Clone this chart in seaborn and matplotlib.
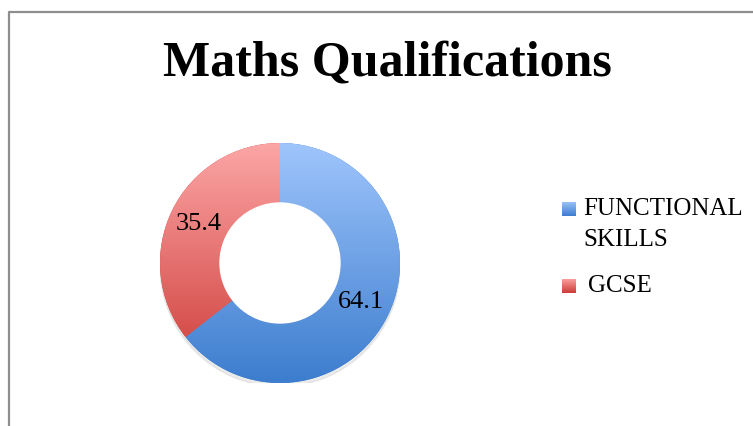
import numpy as np
import matplotlib
matplotlib.use("Agg")
import matplotlib.pyplot as plt
import seaborn as sns
from matplotlib.colors import LinearSegmentedColormap

categories = ["FUNCTIONAL\nSKILLS", "GCSE"]
values = [64.1, 35.4]
title = "Maths Qualifications"

# top / bottom colours of the vertical gradients
grad_colors = [("#9fc5fc", "#3c7dce"), ("#fca6a6", "#cc3a36")]

sns.set_theme(style="white")
plt.rcParams['font.family'] = ['Liberation Serif', 'DejaVu Serif']
plt.rcParams['text.color'] = "black"

fig = plt.figure(figsize=(7.53, 4.26), dpi=100)
fig.patch.set_facecolor("white")

# frame lines (top and left only, rest is cut off)
frame = fig.add_axes([0, 0, 1, 1])
frame.set_xlim(0, 753)
frame.set_ylim(426, 0)
frame.axis("off")
frame.plot([9, 9, 753], [426, 12, 12], color="#8e8e8e", lw=1.6, solid_capstyle="butt")

fig.text(387 / 753, 1 - 64 / 426, title, ha="center", va="center",
         fontsize=36, fontweight="bold", color="black")

ax = fig.add_axes([160 / 753, 43 / 426, 240 / 753, 240 / 426])
total = sum(values)
wedges, texts, autotexts = ax.pie(
    values, startangle=90, counterclock=False, radius=1,
    wedgeprops=dict(width=0.5, edgecolor="none"),
    autopct=lambda p: f"{p * total / 100:.1f}", pctdistance=0.75,
    textprops=dict(fontsize=19, color="black"))
ax.set_xlim(-1, 1)
ax.set_ylim(-1, 1)

# soft shadow under the ring
shadow = plt.Circle((0.0, -0.03), 1.0, color="#c8c8c8", alpha=0.35, zorder=0)
ax.add_patch(shadow)

grad = np.linspace(0, 1, 256).reshape(-1, 1)
for w, (c_top, c_bot) in zip(wedges, grad_colors):
    cmap = LinearSegmentedColormap.from_list("g", [c_top, c_bot])
    im = ax.imshow(grad, extent=(-1, 1, -1, 1), cmap=cmap, aspect="auto",
                   origin="upper", zorder=w.get_zorder() + 0.5)
    im.set_clip_path(w)
    w.set_facecolor(c_bot)
ax.add_patch(plt.Circle((0, 0), 0.5, color="white", zorder=1.8))
for t in autotexts:
    t.set_zorder(5)

# legend with small gradient squares
square_y = [209, 286]
text_x = [583, 588]
for (c_top, c_bot), name, yc, tx in zip(grad_colors, categories, square_y, text_x):
    sq = fig.add_axes([562 / 753, 1 - (yc + 7) / 426, 14 / 753, 14 / 426])
    cmap = LinearSegmentedColormap.from_list("g", [c_top, c_bot])
    sq.imshow(grad, cmap=cmap, aspect="auto", extent=(0, 1, 0, 1))
    sq.set_xlim(0, 1)
    sq.set_ylim(0, 1)
    sq.axis("off")
    fig.text(tx / 753, 1 - (yc - 11) / 426, name, ha="left", va="top",
             fontsize=18, linespacing=1.5, color="black")

fig.savefig("out.png", dpi=100)
